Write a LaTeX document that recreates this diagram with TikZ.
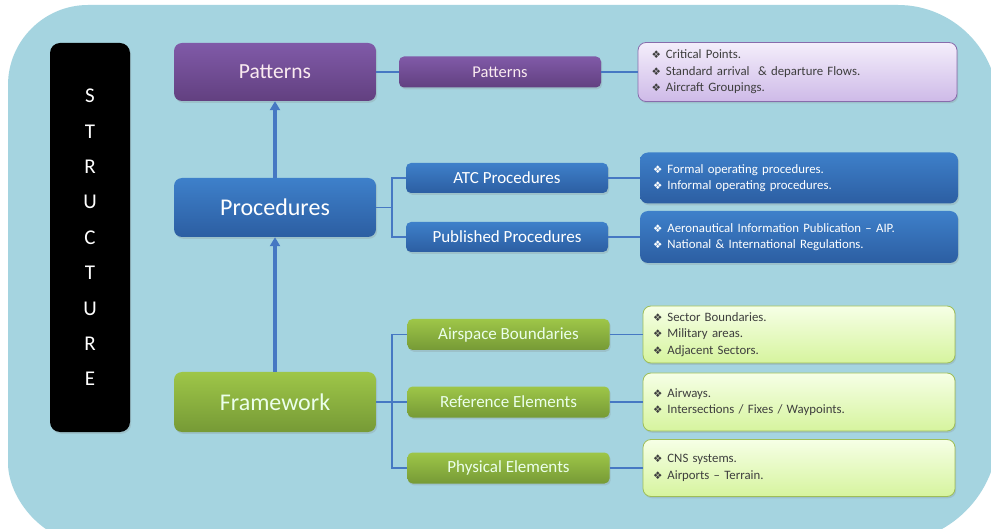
\documentclass[tikz,border=0pt]{standalone}
\usepackage{fontspec}
\setmainfont{Carlito}
\newfontfamily\symfont{DejaVu Sans}
\usetikzlibrary{arrows.meta,shadows,positioning}
\definecolor{bgblue}{RGB}{165,212,224}
\definecolor{purpletop}{RGB}{128,90,168}
\definecolor{purplebot}{RGB}{98,64,128}
\definecolor{bluetop}{RGB}{62,128,202}
\definecolor{bluebot}{RGB}{44,94,162}
\definecolor{greentop}{RGB}{158,198,72}
\definecolor{greenbot}{RGB}{118,154,54}
\definecolor{lavtop}{RGB}{244,238,251}
\definecolor{lavbot}{RGB}{206,186,232}
\definecolor{lavline}{RGB}{135,108,172}
\definecolor{limetop}{RGB}{246,255,230}
\definecolor{limebot}{RGB}{214,244,158}
\definecolor{limeline}{RGB}{158,190,88}
\definecolor{linkblue}{RGB}{70,120,195}
\definecolor{detailtext}{RGB}{62,62,62}
\newcommand{\bul}{{\symfont\fontsize{10.5}{16}\selectfont ❖}\hspace{5pt}}

\begin{document}
\begin{tikzpicture}[
    x=1pt, y=-1pt,
    shade/.style={drop shadow={shadow xshift=1.2pt, shadow yshift=-1.8pt, opacity=0.22}},
    mainbox/.style={shade, rounded corners=8pt, minimum width=202pt, minimum height=59pt, font=\fontsize{24}{28}\selectfont},
    subbox/.style={shade, rounded corners=5pt, minimum width=202pt, minimum height=31pt, font=\fontsize{17}{20}\selectfont},
    detail/.style={shade, rounded corners=8pt, text width=292pt, align=left, inner xsep=10pt, font=\fontsize{12.8}{16.5}\selectfont},
    link/.style={draw=linkblue, line width=1.8pt},
    rise/.style={draw=linkblue, line width=3.4pt, -{Triangle[length=9pt,width=10pt]}}
]
\useasboundingbox (0,0) rectangle (991,529);
\fill[white] (0,0) rectangle (991,529);

% Panel
\begin{scope}
\clip (0,0) rectangle (991,529);
\fill[bgblue] (8,85) .. controls (8,41) and (44,5) .. (88,5) -- (898,5)
  .. controls (953,5) and (998,50) .. (998,105) -- (998,433)
  .. controls (998,494) and (949,543) .. (888,543) -- (88,543)
  .. controls (44,543) and (8,499) .. (8,463) -- cycle;
\end{scope}

% Side title
\node[fill=black, rounded corners=10pt, minimum width=80pt, minimum height=389pt, text=white, align=center, font=\fontsize{21}{35.4}\selectfont, shade] (structure) at (90,237.5) {S\\T\\R\\U\\C\\T\\U\\R\\E};

% Main levels
\node[mainbox, top color=purpletop, bottom color=purplebot, text=purple!8, font=\fontsize{21.5}{26}\selectfont, minimum height=58pt] (patterns) at (275,72) {Patterns};
\node[mainbox, top color=bluetop, bottom color=bluebot, text=white] (procedures) at (275,207.5) {Procedures};
\node[mainbox, top color=greentop, bottom color=greenbot, text=white!92!green, minimum height=60pt] (framework) at (275,402) {Framework};

% Second level
\node[subbox, top color=purpletop, bottom color=purplebot, text=purple!8, font=\fontsize{16.5}{20}\selectfont] (patsub) at (500,72) {Patterns};
\node[subbox, top color=bluetop, bottom color=bluebot, text=white, minimum height=30pt] (atc) at (507,178) {ATC Procedures};
\node[subbox, top color=bluetop, bottom color=bluebot, text=white, minimum height=30pt] (published) at (507,237) {Published Procedures};
\node[subbox, top color=greentop, bottom color=greenbot, text=white!92!green] (airspace) at (508.5,334.5) {Airspace Boundaries};
\node[subbox, top color=greentop, bottom color=greenbot, text=white!92!green] (reference) at (508.5,402) {Reference Elements};
\node[subbox, top color=greentop, bottom color=greenbot, text=white!92!green] (physical) at (508.5,468) {Physical Elements};

% Details
\node[detail, top color=lavtop, bottom color=lavbot, draw=lavline, line width=0.8pt, text=detailtext, minimum width=319pt, minimum height=59pt] (patdet) at (797.5,72)
  {\bul Critical Points.\\\bul Standard arrival\ \ \& departure Flows.\\\bul Aircraft Groupings.};
\node[detail, top color=bluetop, bottom color=bluebot, text=white, minimum width=318pt, minimum height=51pt] (formal) at (799,178)
  {\bul Formal operating procedures.\\\bul Informal operating procedures.};
\node[detail, top color=bluetop, bottom color=bluebot, text=white, minimum width=318pt, minimum height=52pt] (aip) at (799,237)
  {\bul Aeronautical Information Publication -- AIP.\\\bul National \& International Regulations.};
\node[detail, top color=limetop, bottom color=limebot, draw=limeline, line width=0.8pt, text=detailtext, minimum width=312pt, minimum height=57pt] (sector) at (799,334.5)
  {\bul Sector Boundaries.\\\bul Military areas.\\\bul Adjacent Sectors.};
\node[detail, top color=limetop, bottom color=limebot, draw=limeline, line width=0.8pt, text=detailtext, minimum width=312pt, minimum height=58pt] (airways) at (799,402)
  {\bul Airways.\\\bul Intersections / Fixes / Waypoints.};
\node[detail, top color=limetop, bottom color=limebot, draw=limeline, line width=0.8pt, text=detailtext, minimum width=312pt, minimum height=57pt] (cns) at (799,468)
  {\bul CNS systems.\\\bul Airports -- Terrain.};

% Upward arrows
\draw[rise] (framework.north) -- (procedures.south);
\draw[rise] (procedures.north) -- (patterns.south);

% Branches
\draw[link] (patterns.east) -- (patsub.west);
\draw[link] (patsub.east) -- (patdet.west);

\draw[link] (procedures.east) -- ++(16,0) |- (atc.west);
\draw[link] (procedures.east) -- ++(16,0) |- (published.west);
\draw[link] (atc.east) -- (formal.west);
\draw[link] (published.east) -- (aip.west);

\draw[link] (framework.east) -- ++(16,0) |- (airspace.west);
\draw[link] (framework.east) -- ++(16,0) |- (reference.west);
\draw[link] (framework.east) -- ++(16,0) |- (physical.west);
\draw[link] (airspace.east) -- (sector.west);
\draw[link] (reference.east) -- (airways.west);
\draw[link] (physical.east) -- (cns.west);

\end{tikzpicture}
\end{document}
